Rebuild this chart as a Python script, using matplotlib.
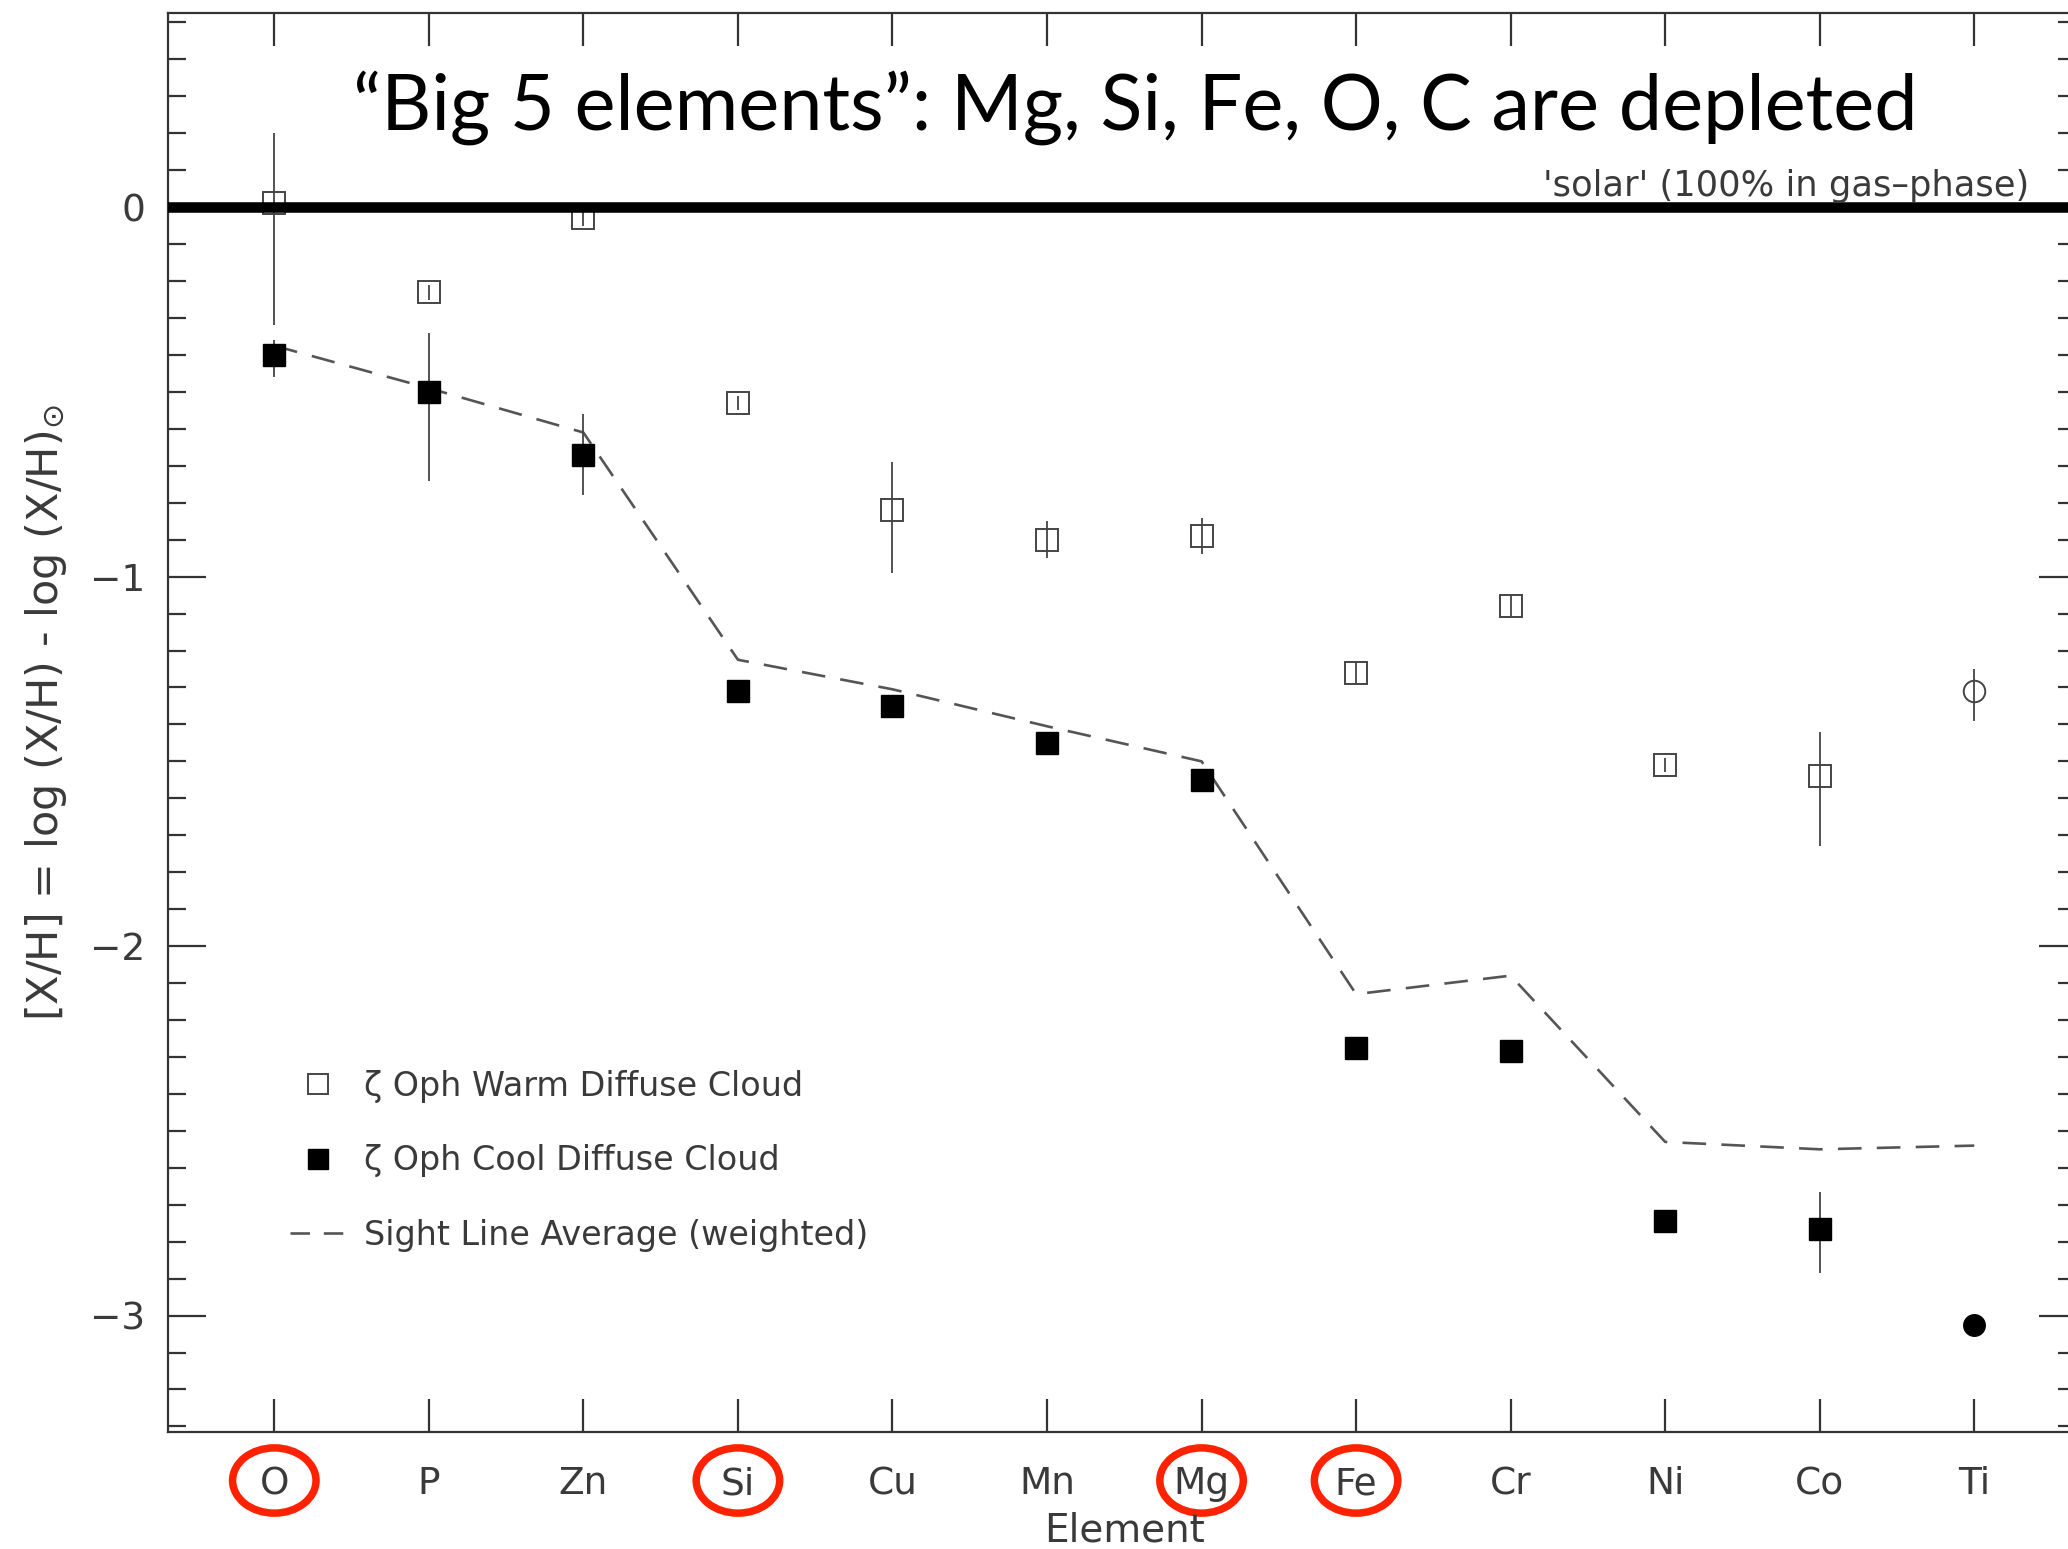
import matplotlib
matplotlib.use('Agg')
import matplotlib.pyplot as plt
import matplotlib.transforms as mtransforms
from matplotlib.patches import Ellipse
from matplotlib.lines import Line2D
from matplotlib.ticker import MultipleLocator
import numpy as np

# ---------------- data ----------------
elements = ['O', 'P', 'Zn', 'Si', 'Cu', 'Mn', 'Mg', 'Fe', 'Cr', 'Ni', 'Co', 'Ti']
warm = [0.01, -0.23, -0.03, -0.53, -0.82, -0.90, -0.89, -1.26, -1.08, -1.51, -1.54, -1.31]
warm_err_lo = [0.33, 0.02, 0.02, 0.02, 0.17, 0.05, 0.05, 0.03, 0.03, 0.02, 0.19, 0.08]
warm_err_hi = [0.19, 0.02, 0.02, 0.02, 0.13, 0.05, 0.05, 0.03, 0.03, 0.02, 0.12, 0.06]
cool = [-0.40, -0.50, -0.67, -1.31, -1.35, -1.45, -1.55, -2.275, -2.285, -2.745, -2.765, -3.025]
cool_err_lo = [0.06, 0.24, 0.11, 0, 0, 0, 0, 0, 0, 0, 0.12, 0]
cool_err_hi = [0.04, 0.16, 0.11, 0, 0, 0, 0, 0, 0, 0, 0.10, 0]
sight_avg = [-0.375, -0.49, -0.61, -1.225, -1.305, -1.405, -1.50, -2.13, -2.08, -2.53, -2.55, -2.54]
highlighted = ['O', 'Si', 'Mg', 'Fe']
yticks = [-3, -2, -1, 0]

title = '\u201cBig 5 elements\u201d: Mg, Si, Fe, O, C are depleted'
solar_label = "'solar' (100% in gas\u2013phase)"
ylabel = '[X/H] = log (X/H) - log (X/H)$_{\\odot}$'
xlabel = 'Element'
legend_labels = ['\u03b6 Oph Warm Diffuse Cloud', '\u03b6 Oph Cool Diffuse Cloud',
                 'Sight Line Average (weighted)']

# ---------------- style ----------------
plt.rcParams['font.family'] = ['DejaVu Sans']
plt.rcParams['lines.scale_dashes'] = False
plt.rcParams['mathtext.fontset'] = 'dejavusans'
TXT = '#3a3a3a'
EDGE = '#444444'

W, H = 2068, 1549
fig = plt.figure(figsize=(W / 100, H / 100), dpi=100)
ax = fig.add_axes([0.0810, 0.0758, 0.923, 0.9157])

x = np.arange(len(elements))
markers = ['o' if e == 'Ti' else 's' for e in elements]

# warm cloud (open)
for i in x:
    ax.errorbar(x[i], warm[i], yerr=[[warm_err_lo[i]], [warm_err_hi[i]]],
                fmt=markers[i], mfc='none', mec=EDGE, ms=15.5, mew=1.4,
                ecolor=EDGE, elinewidth=1.3, capsize=0, zorder=3)
# cool cloud (filled)
for i in x:
    ax.errorbar(x[i], cool[i], yerr=[[cool_err_lo[i]], [cool_err_hi[i]]],
                fmt=markers[i], mfc='black', mec='black', ms=15.5, mew=1.0,
                ecolor=EDGE, elinewidth=1.3, capsize=0, zorder=3)
# sight line average
ax.plot(x, sight_avg, color='#555555', lw=1.9, dashes=(17, 11), zorder=2)

# solar reference line
ax.axhline(0, color='black', lw=7.6, zorder=5)
blend_ay = mtransforms.blended_transform_factory(ax.transAxes, ax.transData)
ax.text(0.9755, 0.03, solar_label, transform=blend_ay, ha='right', va='baseline',
        fontsize=25.4, color=TXT, zorder=6)

# axes limits and ticks
ax.set_xlim(-0.691, 11.66)
ax.set_ylim(-3.314, 0.525)
ax.set_xticks(x)
ax.set_xticklabels(elements)
ax.set_yticks(yticks)
ax.yaxis.set_minor_locator(MultipleLocator(0.1))
ax.tick_params(axis='x', which='major', direction='in', length=24, width=1.6,
               top=True, bottom=True, pad=25, labelsize=27, labelcolor=TXT, color='#333333')
ax.tick_params(axis='x', which='minor', bottom=False, top=False)
ax.tick_params(axis='y', which='major', direction='in', length=27, width=1.6,
               left=True, right=True, pad=16, labelsize=27, labelcolor=TXT, color='#333333')
ax.tick_params(axis='y', which='minor', direction='in', length=13, width=1.6,
               left=True, right=True, color='#333333')
for sp in ax.spines.values():
    sp.set_color('#333333')
    sp.set_linewidth(1.6)

# legend
handles = [
    Line2D([], [], ls='none', marker='s', mfc='none', mec=EDGE, ms=14, mew=1.4),
    Line2D([], [], ls='none', marker='s', mfc='black', mec='black', ms=14),
    Line2D([], [], color='#555555', lw=1.9, dashes=(14, 10)),
]
leg = ax.legend(handles, legend_labels, loc='center left', bbox_to_anchor=(0.0643, 0.191),
                frameon=False, fontsize=24, handlelength=1.65, handletextpad=0.55,
                labelspacing=1.25, borderpad=0, borderaxespad=0, labelcolor=TXT)

# red circles around the highlighted tick labels
blend_xa = mtransforms.blended_transform_factory(ax.transData, ax.transAxes)
for name in highlighted:
    idx = elements.index(name)
    ax.add_patch(Ellipse((idx, -0.0345), width=0.54, height=0.046, transform=blend_xa,
                         fill=False, ec='#ff2200', lw=5.4, clip_on=False, zorder=10))

# labels
fig.text(0.0223, 0.54, ylabel, rotation=90, ha='center', va='center', fontsize=31, color=TXT)
fig.text(0.544, 0.0119, xlabel, ha='center', va='center', fontsize=28, color=TXT)

# title, fitted to the reference width
t = fig.text(0.549, 0.9165, title, ha='center', va='baseline', fontsize=60,
             family=['Lato', 'DejaVu Sans'], color='black')
fig.canvas.draw()
w = t.get_window_extent().width
t.set_fontsize(60 * (0.757 * W) / w)

fig.savefig('out.png', dpi=100)
